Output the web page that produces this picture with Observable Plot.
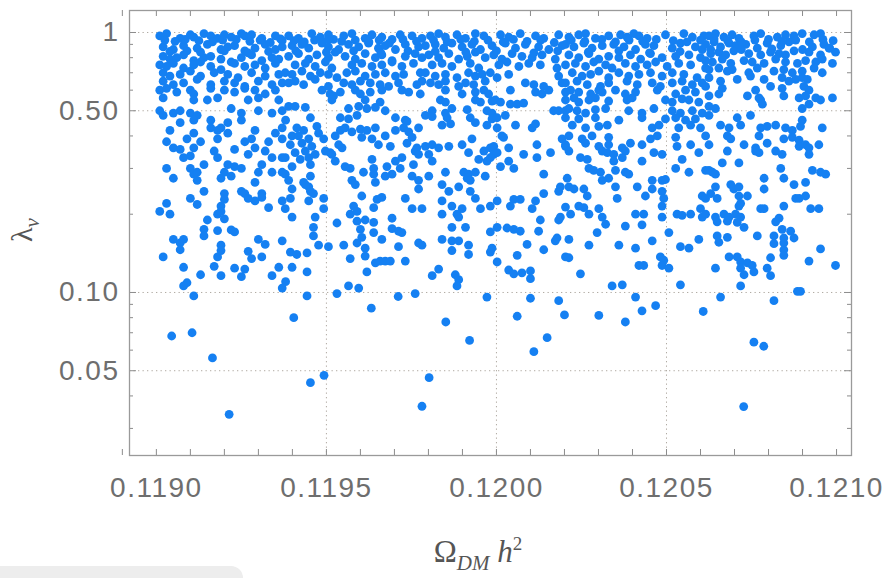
<!DOCTYPE html>
<html><head><meta charset="utf-8">
<script src="https://cdn.jsdelivr.net/npm/d3@7"></script>
<script src="https://cdn.jsdelivr.net/npm/@observablehq/plot@0.6"></script>
<style>
html,body{margin:0;padding:0;background:#fff;}
#wrap{position:relative;width:891px;height:578px;overflow:hidden;}
#tab{position:absolute;left:0;top:566px;width:243px;height:20px;background:#ededed;border-radius:0 12px 0 0;z-index:2;}
</style></head><body><div id="wrap"></div>
<script>
// ---- tick values & labels ----
const xMinorTicks = [0.1189,0.1190,0.1191,0.1192,0.1193,0.1194,0.1195,0.1196,0.1197,0.1198,0.1199,0.1200,0.1201,0.1202,0.1203,0.1204,0.1205,0.1206,0.1207,0.1208,0.1209,0.1210];
const xLabelTicks = [0.1190,0.1195,0.1200,0.1205,0.1210];
const xGrid = [0.1195,0.1200,0.1205];
const yMajorTicks = [1,0.5,0.1,0.05];
const yTickLabels = ["1","0.50","0.10","0.05"];
const yMinorTicks = [0.9,0.8,0.7,0.6,0.4,0.3,0.2,0.09,0.08,0.07,0.06,0.04,0.03];
const yGrid = [1,0.5,0.1,0.05];

// ---- scatter points [Omega_DM h^2, lambda_nu] ----
const ptsA = [
[.11901,.97],[.11903,.99],[.11907,.95],[.1191,.98],[.11911,.96],[.11914,.99],[.11916,.97],[.11918,.95],[.1192,.98],[.11922,.96],[.11925,.99],[.11926,.97],[.11928,.98],[.11931,.95],[.11935,.97],[.11937,.93],
[.11902,.88],[.11905,.86],[.11908,.89],[.11909,.85],[.11912,.87],[.11915,.9],[.11919,.86],[.11921,.88],[.11923,.89],[.11926,.85],[.11929,.87],[.11932,.9],[.11935,.86],[.11937,.88],
[.11902,.81],[.11904,.79],[.11906,.8],[.11908,.82],[.11911,.78],[.11914,.8],[.11916,.81],[.11919,.79],[.11922,.77],[.11925,.8],[.11928,.82],[.11931,.78],[.11934,.8],[.11936,.79],
[.11901,.75],[.11903,.74],[.11905,.76],[.11908,.73],[.11911,.75],[.11913,.77],[.11916,.74],[.11919,.72],[.11923,.76],[.11926,.74],[.11929,.75],[.11932,.73],[.11935,.76],
[.11902,.7],[.11904,.68],[.11907,.69],[.1191,.71],[.11913,.68],[.11917,.7],[.11921,.69],[.11924,.67],[.11928,.7],[.11932,.68],[.11936,.69],
[.11902,.65],[.11905,.63],[.11908,.64],[.11912,.66],[.11916,.63],[.1192,.65],[.11923,.64],[.11926,.62],[.1193,.65],[.11934,.63],[.11937,.64],
[.11901,.6],[.11903,.61],[.11906,.59],[.1191,.6],[.11911,.58],[.11916,.61],[.1192,.6],[.11923,.59],[.11926,.61],[.11929,.6],[.11932,.58],[.11935,.6],
[.11902,.56],[.11911,.55],[.11915,.55],[.11918,.56],[.11927,.55],[.1193,.56],[.11936,.55],
[.11901,.5],[.11902,.48],[.11905,.49],[.11907,.5],[.1191,.49],[.11912,.48],[.11922,.51],[.11925,.49],[.1193,.5],[.11934,.49],[.11937,.5],
[.11907,.45],[.11911,.46],[.11916,.46],[.11921,.45],[.11925,.46],[.11938,.46],
[.11904,.42],[.11911,.41],[.11916,.43],[.11918,.42],[.11919,.43],[.11921,.41],[.11929,.42],[.11935,.41],[.11937,.43],
[.11903,.38],[.11909,.39],[.11913,.38],[.11918,.39],[.11926,.38],[.11928,.39],[.11933,.38],[.11937,.39],
[.11905,.36],[.11907,.355],[.11911,.36],[.11917,.35],[.11923,.355],[.11929,.36],[.11932,.35],
[.11908,.33],[.1191,.335],[.11918,.33],[.11927,.34],[.11934,.33],[.11937,.33],
[.11914,.31],[.11921,.31],[.11923,.305],[.11925,.3],[.11931,.31],
[.11903,.3],[.1191,.3],[.11911,.285],[.11912,.29],[.1192,.29],[.11922,.28],[.1193,.29],[.11934,.29],[.11937,.29],
[.11905,.275],[.11912,.27],[.11919,.275],[.11929,.265],
[.11914,.245],[.1192,.24],[.11925,.245],[.11926,.24],[.11931,.24],
[.1191,.23],[.1192,.228],[.11927,.23],[.11929,.225],[.11931,.232],[.11937,.225],
[.11903,.22],[.11912,.218],[.11919,.215],[.11933,.212],
[.11901,.205],[.11904,.2],[.11918,.2],[.11919,.205],
[.11915,.19],[.1192,.192],
[.11914,.175],[.11918,.173],[.11922,.174],[.11923,.171],
[.11905,.16],[.11908,.16],[.11914,.165],[.1193,.16],[.11937,.158],
[.11907,.155],[.11919,.152],[.11932,.153],
[.11907,.146],[.11919,.145],[.11927,.144],
[.11902,.137],[.11918,.137],[.11928,.135],[.11931,.137],
[.11908,.125],[.11917,.126],[.11923,.124],[.11926,.123],[.11936,.125],
[.11913,.117],[.11919,.116],[.11925,.115],[.11934,.116],
[.11909,.109],[.11938,.11],[.11908,.106],[.11937,.104],[.11911,.097]
];
const ptsB = [
[.119389,.97],[.119418,.95],[.119457,.99],[.119482,.96],[.119506,.98],[.119521,.94],[.119551,.97],[.119575,.99],[.119614,.95],[.119634,.98],[.119663,.96],[.119693,.94],[.119717,.98],[.119752,.97],[.119781,.95],
[.119399,.89],[.119428,.9],[.119448,.87],[.119487,.91],[.119506,.88],[.119536,.86],[.119565,.9],[.119595,.88],[.119624,.91],[.119653,.87],[.119673,.89],[.119703,.86],[.119732,.9],[.119771,.88],
[.119389,.81],[.119418,.83],[.119448,.79],[.119472,.82],[.119506,.8],[.119526,.84],[.119555,.81],[.119585,.79],[.119614,.83],[.119644,.8],[.119663,.82],[.119693,.78],[.119732,.81],[.119761,.83],[.119781,.8],
[.119408,.75],[.119438,.76],[.119467,.74],[.119497,.77],[.119516,.73],[.119575,.75],[.119604,.76],[.119634,.74],[.119663,.75],[.119693,.77],[.119722,.74],[.119756,.76],
[.119379,.7],[.119399,.69],[.119428,.71],[.119453,.68],[.119482,.7],[.119506,.69],[.119531,.67],[.11956,.7],[.119585,.71],[.119614,.68],[.119644,.69],[.119673,.7],[.119703,.68],[.119727,.69],[.119776,.7],
[.119389,.64],[.119408,.65],[.119433,.63],[.119467,.66],[.119506,.62],[.119551,.64],[.119575,.63],[.1196,.65],[.119629,.64],[.119658,.63],[.119683,.62],[.119712,.64],[.119766,.63],[.119781,.65],
[.119487,.6],[.119511,.58],[.119521,.57],[.119541,.59],[.119585,.6],[.1196,.58],[.119629,.59],[.119663,.6],[.119722,.6],[.119742,.59],[.119776,.58],
[.119516,.55],[.119614,.55],[.119658,.54],
[.119389,.52],[.119408,.52],[.119438,.515],[.119565,.51],[.119595,.52],[.119619,.51],[.119644,.515],[.119673,.5],
[.119453,.47],[.119541,.47],[.119565,.465],[.11959,.48],[.119703,.47],[.119732,.46],[.119737,.455],
[.119413,.43],[.119433,.42],[.119472,.435],[.119541,.42],[.119555,.43],[.119575,.415],[.1196,.425],[.119619,.42],[.119644,.43],[.119703,.42],[.119727,.43],[.119742,.415],[.119771,.43],
[.119399,.4],[.119418,.4],[.119448,.39],[.119477,.41],[.119492,.39],[.119526,.4],[.119604,.395],[.119634,.39],[.119673,.4],[.119752,.395],
[.119394,.37],[.119428,.375],[.119457,.365],[.119536,.37],[.119546,.36],[.119653,.37],[.119688,.365],[.119737,.375],[.119766,.36],
[.119408,.345],[.119438,.35],[.119467,.34],[.119497,.35],[.119511,.345],[.119516,.34],[.119761,.35],[.119771,.34],
[.119379,.33],[.119423,.325],[.119448,.33],[.119526,.32],[.119634,.325],[.119703,.32],[.119722,.33],
[.119399,.305],[.119453,.31],[.119555,.305],[.11957,.3],[.119639,.3],[.119678,.305],[.119717,.3],[.119756,.31],
[.119379,.285],[.119453,.28],[.119609,.29],[.119639,.285],[.119673,.28],[.119693,.285],[.119752,.28],
[.119389,.27],[.119433,.265],[.119438,.26],[.119575,.27],[.119585,.26],[.119644,.265],[.119771,.27],
[.119399,.25],[.119448,.255],[.119453,.245],[.119462,.24],[.119771,.25],
[.119394,.23],[.119448,.225],[.119492,.23],[.119604,.235],[.119649,.228],[.119663,.232],[.119732,.23],
[.119379,.21],[.119492,.21],[.11958,.215],[.11959,.205],[.119639,.212],[.119752,.21],[.119781,.21],
[.119399,.195],[.119467,.195],[.11957,.2],[.119614,.19],[.119693,.193],
[.119531,.185],[.11959,.188],[.119639,.186],
[.119462,.178],[.1196,.175],[.119639,.17],[.119693,.176],[.119712,.172],[.119722,.17],
[.119462,.165],[.119604,.163],[.119663,.16],
[.119477,.152],[.119506,.15],[.119551,.152],[.11959,.155],[.119614,.148],[.119712,.15],[.119771,.155],[.119781,.152],
[.119394,.143],[.119413,.14],[.119443,.142],[.119614,.138],
[.11957,.135],[.119644,.13],[.119658,.132],[.119673,.132],[.119688,.132],[.119732,.132],
[.119399,.125],[.119443,.12],[.119619,.12],
[.119565,.106],[.119595,.104],
[.119443,.097],[.119531,.099],[.119711,.0965],[.119761,.099]
];
const ptsC = [
[.119806,.97],[.11983,.99],[.11985,.96],[.119884,.98],[.119909,.95],[.119938,.99],[.119963,.97],[.120012,.98],[.120036,.96],[.12007,.99],[.120115,.97],[.120139,.95],[.120183,.98],
[.119791,.89],[.11982,.9],[.119845,.87],[.119869,.91],[.119899,.88],[.119928,.9],[.119953,.86],[.119987,.89],[.120026,.91],[.120056,.87],[.120085,.9],[.120124,.88],[.120154,.86],[.120193,.89],
[.119801,.82],[.11983,.8],[.11986,.83],[.119889,.79],[.119914,.81],[.119938,.84],[.119967,.8],[.119992,.82],[.120016,.79],[.120046,.83],[.120075,.81],[.120105,.8],[.120134,.82],[.120173,.79],
[.119811,.75],[.11984,.76],[.119869,.74],[.119923,.76],[.119948,.73],[.120007,.75],[.120031,.77],[.120066,.74],[.120095,.76],[.120129,.75],[.120178,.73],
[.119791,.7],[.11982,.68],[.11985,.69],[.119884,.67],[.119918,.7],[.119938,.68],[.119958,.69],[.119982,.7],[.120002,.67],[.120036,.69],[.120183,.68],
[.119806,.64],[.11983,.63],[.11985,.65],[.119889,.62],[.119909,.64],[.119933,.63],[.119967,.65],[.120085,.64],[.12011,.63],[.120139,.62],[.120193,.64],
[.11985,.6],[.119899,.58],[.119938,.59],[.119963,.6],[.119977,.58],[.120041,.6],[.120115,.59],[.120134,.58],[.120154,.6],[.120203,.59],
[.119835,.55],[.11985,.54],[.119938,.55],[.119953,.54],[.119987,.545],[.119997,.55],[.120012,.54],[.120041,.53],[.120061,.53],[.12008,.535],
[.119811,.5],[.11985,.49],[.119869,.51],[.119914,.505],[.119972,.5],[.119987,.49],[.120026,.48],[.120168,.5],[.120183,.5],[.120203,.5],
[.119791,.48],[.119811,.475],[.119855,.47],[.119923,.47],[.119987,.465],[.120002,.47],
[.11984,.44],[.119865,.445],[.119938,.45],[.119972,.44],[.120002,.43],[.120056,.44],[.120105,.43],[.120115,.445],
[.119928,.39],[.120016,.4],[.120021,.395],[.120193,.39],
[.119791,.365],[.119811,.37],[.11983,.36],[.11986,.365],[.119899,.37],[.119982,.36],[.119992,.365],[.120036,.36],[.120119,.37],[.120203,.365],
[.119801,.34],[.119918,.345],[.119963,.35],[.119992,.34],[.120002,.345],[.12008,.34],[.120159,.345],
[.119811,.32],[.119948,.325],[.119972,.32],[.119982,.33],[.120036,.32],[.120119,.33],
[.120012,.305],[.120051,.3],
[.11985,.29],[.119904,.29],[.119918,.285],[.119938,.29],[.120139,.285],
[.119801,.28],[.119914,.275],[.119923,.27],[.119967,.28],
[.11984,.26],[.119889,.255],[.120188,.255],
[.11986,.245],[.119923,.245],[.120139,.24],[.120183,.245],
[.11984,.225],[.119938,.23],[.120002,.225],[.120051,.228],[.12007,.228],[.120115,.225],
[.119869,.215],[.119899,.21],[.119953,.21],[.119982,.215],[.120041,.215],[.120105,.21],
[.11984,.2],[.119884,.2],[.119889,.195],[.120188,.195],
[.120129,.19],[.120183,.19],
[.119869,.178],[.119909,.178],[.120002,.178],[.120031,.177],[.120051,.175],
[.119982,.171],[.12007,.172],[.120124,.172],
[.11984,.16],[.119869,.158],[.119889,.158],[.120173,.158],[.120178,.162],
[.119918,.152],[.119987,.148],[.12009,.153],[.120139,.146],
[.119869,.145],[.119982,.143],
[.119918,.14],[.120061,.139],[.120203,.137],
[.120002,.131],
[.11983,.123],[.120036,.122],[.120051,.118],[.120075,.119],[.1201,.121],
[.119811,.116],[.119879,.117],[.119889,.112],[.1201,.113],
[.119884,.106],
[.119972,.096],[.1201,.095],[.120183,.093]
];
const ptsD = [
[.120213,.96],[.120242,.98],[.120262,.99],[.120291,.95],[.12033,.97],[.120365,.98],[.120384,.96],[.120404,.99],[.120419,.97],[.120443,.95],[.120497,.98],[.120551,.99],[.120576,.96],[.12061,.97],
[.120203,.9],[.120228,.88],[.120257,.91],[.120281,.87],[.120311,.89],[.120345,.9],[.120375,.88],[.120409,.86],[.120438,.9],[.120463,.89],[.120517,.87],[.120541,.91],[.120585,.88],[.120605,.86],
[.120213,.82],[.120242,.8],[.120272,.83],[.120301,.79],[.12033,.81],[.12036,.8],[.120394,.82],[.120424,.79],[.120453,.83],[.120487,.8],[.120527,.81],[.120566,.82],[.1206,.8],
[.120203,.75],[.120232,.76],[.120262,.74],[.120286,.77],[.120321,.75],[.12034,.73],[.120379,.76],[.120409,.74],[.120443,.75],[.120468,.77],[.120502,.74],[.120536,.76],[.120571,.75],[.120615,.73],
[.120223,.7],[.120252,.68],[.120277,.69],[.120301,.71],[.12033,.67],[.12036,.7],[.120389,.68],[.120419,.69],[.120453,.7],[.120487,.68],[.120517,.7],[.120551,.69],[.12059,.67],
[.120203,.64],[.120237,.65],[.120267,.63],[.120306,.62],[.12033,.64],[.120384,.65],[.120414,.63],[.120458,.64],[.120482,.62],[.120517,.64],[.120546,.65],[.120576,.63],[.120605,.64],
[.120218,.6],[.120242,.59],[.120277,.58],[.120301,.6],[.120311,.59],[.12035,.6],[.120379,.58],[.120409,.59],[.120473,.6],[.120527,.58],[.120556,.6],[.120585,.59],
[.120203,.55],[.120228,.56],[.120242,.54],[.120272,.55],[.120291,.56],[.12033,.545],[.120384,.55],[.120399,.56],[.120497,.55],[.120517,.54],[.120546,.555],[.120566,.55],[.120595,.54],
[.120213,.51],[.120237,.5],[.120262,.49],[.120291,.505],[.120321,.51],[.120389,.5],[.120428,.49],[.120463,.51],[.120517,.5],[.120541,.49],[.120576,.5],[.120605,.49],
[.120203,.47],[.120242,.465],[.120291,.47],[.12036,.46],[.120428,.47],[.120497,.465],[.120527,.47],[.120556,.46],[.120585,.465],
[.120223,.44],[.120262,.43],[.120301,.435],[.120326,.44],[.120458,.43],[.120478,.44],[.120536,.43],[.120571,.44],[.1206,.43],
[.120213,.4],[.120252,.39],[.120281,.4],[.12033,.395],[.120453,.39],[.120473,.4],[.120527,.395],
[.120203,.37],[.120262,.375],[.120301,.365],[.12033,.37],[.12037,.36],[.120394,.375],[.120428,.37],[.120531,.365],[.120571,.37],
[.120213,.35],[.120311,.35],[.120326,.345],[.120345,.34],[.120379,.35],[.120463,.345],[.120487,.34],[.120595,.345],
[.120247,.33],[.120267,.325],[.120345,.32],[.12037,.33],[.120428,.32],[.120546,.325],
[.120272,.3],[.120286,.295],[.120306,.29],[.12035,.295],[.120379,.29],[.120389,.285],[.120527,.3],[.120566,.29],[.120615,.295],
[.120208,.275],[.120311,.27],[.12033,.275],[.120458,.27],[.120487,.27],[.120497,.272],
[.120213,.255],[.120228,.25],[.120257,.25],[.12035,.255],[.120414,.255],[.120458,.25],[.120487,.245],
[.120267,.235],[.120355,.23],[.120438,.235],[.120492,.23],[.120605,.235],[.120615,.23],
[.120203,.213],[.120242,.215],[.120257,.212],[.120301,.21],[.120487,.215],[.1206,.21],
[.120218,.2],[.120272,.2],[.120311,.195],[.120409,.2],[.120433,.2],[.120487,.195],[.120531,.2],[.120546,.198],[.120571,.2],[.120605,.195],
[.120321,.183],[.120379,.18],[.120428,.182],
[.120296,.17],[.120507,.17],
[.120213,.16],[.120458,.158],[.120595,.16],
[.120272,.152],[.12036,.152],[.120409,.148],[.120541,.15],[.120566,.148],
[.120213,.136],[.120482,.137],[.120492,.133],
[.120419,.127],[.120433,.127],[.120487,.127],[.120507,.124],
[.120247,.118],
[.12034,.106],[.12037,.107],[.120541,.107],
[.120409,.096]
];
const ptsE = [
[.120625,.97],[.120644,.99],[.120669,.96],[.120693,.98],[.120713,.95],[.120757,.97],[.120777,.99],[.120826,.96],[.12085,.98],[.120875,.97],[.120899,.99],[.120934,.98],[.120953,.99],
[.120615,.9],[.12064,.92],[.120659,.88],[.120684,.91],[.120703,.89],[.120733,.9],[.120767,.87],[.120796,.91],[.120836,.89],[.12086,.92],[.120929,.88],[.120963,.9],[.120978,.87],
[.12063,.83],[.120654,.84],[.120674,.82],[.120698,.85],[.120742,.83],[.120777,.82],[.120806,.84],[.120831,.83],[.12085,.82],[.120875,.85],[.120919,.84],[.120953,.82],[.120997,.84],
[.120615,.78],[.120635,.77],[.120664,.79],[.120689,.76],[.120728,.78],[.120752,.77],[.120787,.76],[.120821,.79],[.12085,.77],[.120885,.76],[.120909,.78],[.120939,.77],[.120958,.79],[.120988,.76],
[.120625,.72],[.120654,.73],[.120679,.71],[.120693,.72],[.120742,.7],[.120767,.73],[.120816,.71],[.120845,.72],[.12087,.7],[.120899,.71],[.120934,.73],[.120958,.7],
[.120625,.67],[.120659,.65],[.120708,.66],[.120747,.68],[.120787,.66],[.12084,.67],[.12086,.65],[.12088,.66],[.120899,.67],[.120914,.66],
[.120615,.62],[.120664,.61],[.120762,.6],[.120806,.62],[.12084,.61],[.120904,.62],[.120919,.6],
[.120625,.57],[.120654,.58],[.120738,.57],[.120772,.56],[.120777,.55],[.120845,.57],[.12089,.56],[.120909,.57],[.120939,.56],[.120953,.55],[.120988,.56],
[.120625,.52],[.120644,.51],[.120782,.53],[.120899,.51],[.120919,.53],
[.120625,.48],[.120708,.47],[.120747,.48],[.120899,.46],
[.120659,.44],[.120684,.43],[.120718,.44],[.120777,.43],[.120796,.435],[.120821,.44],[.12085,.43],[.12087,.42],[.120894,.435],[.120958,.43],
[.120615,.4],[.120679,.4],[.120689,.39],[.120772,.4],[.120845,.39],[.12087,.395],[.12089,.385],
[.120625,.37],[.120728,.37],[.120762,.36],[.120796,.375],[.12089,.365],[.120909,.37],[.120919,.36],[.120948,.37],
[.120679,.35],[.120762,.35],[.120772,.345],[.120821,.35],[.12084,.34],[.120919,.34],
[.120664,.315],[.120713,.315],
[.120625,.295],[.120635,.29],[.120644,.285],[.120836,.3],[.120929,.295],[.120953,.29],[.120968,.285],
[.120787,.275],[.120845,.275],[.120875,.26],[.120909,.265],
[.120644,.255],[.120689,.26],[.120698,.25],[.120713,.255],[.120787,.25],
[.12063,.24],[.120649,.23],[.120713,.235],[.120738,.235],[.12088,.23],[.12089,.23],[.120909,.235],
[.120713,.215],[.120718,.22],[.120777,.21],[.120787,.21],[.120845,.215],[.120924,.21],[.120948,.21],
[.120615,.2],[.120644,.195],[.120669,.2],[.120684,.195],[.120703,.2],[.120718,.195],[.120831,.193],
[.120649,.187],[.120679,.188],[.120708,.186],[.120821,.187],
[.120728,.178],[.12084,.175],[.120865,.172],
[.120649,.165],[.120679,.163],[.120767,.165],[.120816,.165],[.120845,.162],[.120875,.162],
[.120654,.156],[.120816,.154],[.120845,.155],
[.120845,.146],[.120953,.147],
[.120684,.137],[.120708,.137],[.120806,.136],[.120845,.139],
[.120718,.131],[.120738,.13],[.120752,.127],[.120919,.132],[.120997,.127],
[.120644,.124],[.120718,.124],[.120757,.12],[.120796,.124],
[.120728,.117],[.120806,.116],
[.120718,.106],[.120885,.101],[.120894,.101],
[.120659,.096],[.120816,.093]
];
// extra points filling the near-solid strip at the top of the cloud
const ptsTopFill = [
[.119025,.935],[.119055,.925],[.119085,.94],[.119125,.93],[.119165,.92],[.119195,.935],[.119235,.94],[.119275,.925],[.119305,.935],[.119335,.915],[.119365,.945],
[.119405,.93],[.119435,.92],[.119465,.935],[.119505,.94],[.119545,.925],[.119585,.935],[.119625,.92],[.119655,.935],[.119685,.91],[.119725,.94],[.119765,.925],
[.119815,.935],[.119855,.92],[.119895,.94],[.119935,.925],[.119975,.935],[.12002,.92],[.12005,.94],[.12009,.925],[.12013,.935],[.12017,.915],
[.12022,.935],[.12026,.925],[.12031,.94],[.12035,.92],[.12039,.935],[.12043,.925],[.12047,.94],[.12052,.93],[.12056,.92],[.1206,.935],
[.12064,.945],[.12068,.93],[.12072,.92],[.12076,.935],[.1208,.94],[.12084,.925],[.12088,.935],[.12092,.92],[.12096,.94],[.12099,.93],
[.11904,.845],[.11913,.84],[.1192,.85],[.11927,.835],[.11933,.845],[.11941,.85],[.1195,.84],[.11958,.85],[.11966,.835],[.11974,.85],
[.11982,.845],[.11991,.84],[.12,.85],[.12011,.835],[.12018,.85],[.12027,.84],[.12036,.85],[.12045,.835],[.12054,.845],[.12063,.86],
[.12072,.86],[.12081,.865],[.1209,.86],[.12098,.87]
];
const ptsTail = [
[.119045,.068],[.119105,.070],[.119165,.056],[.119214,.034],[.119404,.080],[.119453,.045],[.119493,.048],[.119632,.087],
[.119851,.077],[.119802,.047],[.119781,.0365],[.119921,.0654],[.12011,.0592],[.120149,.067],[.1202,.082],[.120061,.081],
[.120301,.0816],[.120379,.077],[.120428,.085],[.120468,.089],[.120608,.0845],[.120757,.0644],[.120786,.0621],[.120727,.0364]
];

const points = [...ptsA, ...ptsB, ...ptsC, ...ptsD, ...ptsE, ...ptsTopFill, ...ptsTail].map(([x, y]) => ({x, y}));

const gray = "#8c8c8c";
const textGray = "#6e6e6e";
const chart = Plot.plot({
  width: 891,
  height: 578,
  marginLeft: 129,
  marginRight: 40,
  marginTop: 10,
  marginBottom: 123,
  style: {background: "white", fontFamily: "'Liberation Sans', Arial, sans-serif"},
  x: {domain: [0.118921, 0.121044]},
  y: {type: "log", domain: [0.0236, 1.215]},
  marks: [
    Plot.ruleX(xGrid, {stroke: "#b0aaa2", strokeDasharray: "1.3,3.2", strokeWidth: 1}),
    Plot.ruleY(yGrid, {stroke: "#b0aaa2", strokeDasharray: "1.3,3.2", strokeWidth: 1}),
    Plot.dot(points, {x: "x", y: "y", r: 4.4, fill: "#1580f2", stroke: null}),
    Plot.tickX(xMinorTicks, {x: d => d, insetTop: 439, stroke: gray, strokeWidth: 1}),
    Plot.tickX(xMinorTicks, {x: d => d, insetBottom: 439, stroke: gray, strokeWidth: 1}),
    Plot.tickY(yMajorTicks, {y: d => d, insetRight: 715, stroke: gray}),
    Plot.tickY(yMajorTicks, {y: d => d, insetLeft: 715, stroke: gray}),
    Plot.tickY(yMinorTicks, {y: d => d, insetRight: 718, stroke: gray}),
    Plot.tickY(yMinorTicks, {y: d => d, insetLeft: 718, stroke: gray}),
    Plot.frame({stroke: "#9a9a9a", strokeWidth: 1.3}),
    Plot.axisX(xLabelTicks, {tickSize: 0, tickPadding: 22, tickFormat: d3.format(".4f"), fontSize: 28, color: textGray, label: null}),
    Plot.axisY(yMajorTicks, {tickSize: 0, tickPadding: 10, tickFormat: d => yTickLabels[yMajorTicks.indexOf(d)], fontSize: 28, color: textGray, label: null})
  ]
});

const wrap = document.getElementById("wrap");
wrap.appendChild(chart);
const tab = document.createElement("div");
tab.id = "tab";
wrap.appendChild(tab);

const svg = d3.select(chart);
svg.selectAll('g[aria-label="x-axis tick label"] text, g[aria-label="y-axis tick label"] text')
  .style("letter-spacing", "1.5px");

// y-axis title  λ_ν
const yt = svg.append("text")
  .attr("transform", "translate(32,230) rotate(-90)")
  .attr("text-anchor", "middle")
  .attr("fill", "#555")
  .style("font-family", "'Liberation Serif', 'DejaVu Serif', serif")
  .style("font-size", "30px");
yt.append("tspan").text("λ");
yt.append("tspan").attr("dy", 7).style("font-size", "21px").style("font-style", "italic").text("ν");

// x-axis title  Ω_DM h²
const xt = svg.append("text")
  .attr("x", 478).attr("y", 562)
  .attr("text-anchor", "middle")
  .attr("fill", "#555")
  .style("font-family", "'Liberation Serif', 'DejaVu Serif', serif")
  .style("font-size", "31px");
xt.append("tspan").text("Ω");
xt.append("tspan").attr("dy", 8).style("font-size", "21px").style("font-style", "italic").text("DM");
xt.append("tspan").attr("dy", -8).style("font-style", "italic").text(" h");
xt.append("tspan").attr("dy", -12).style("font-size", "19px").text("2");
</script>
</body></html>
